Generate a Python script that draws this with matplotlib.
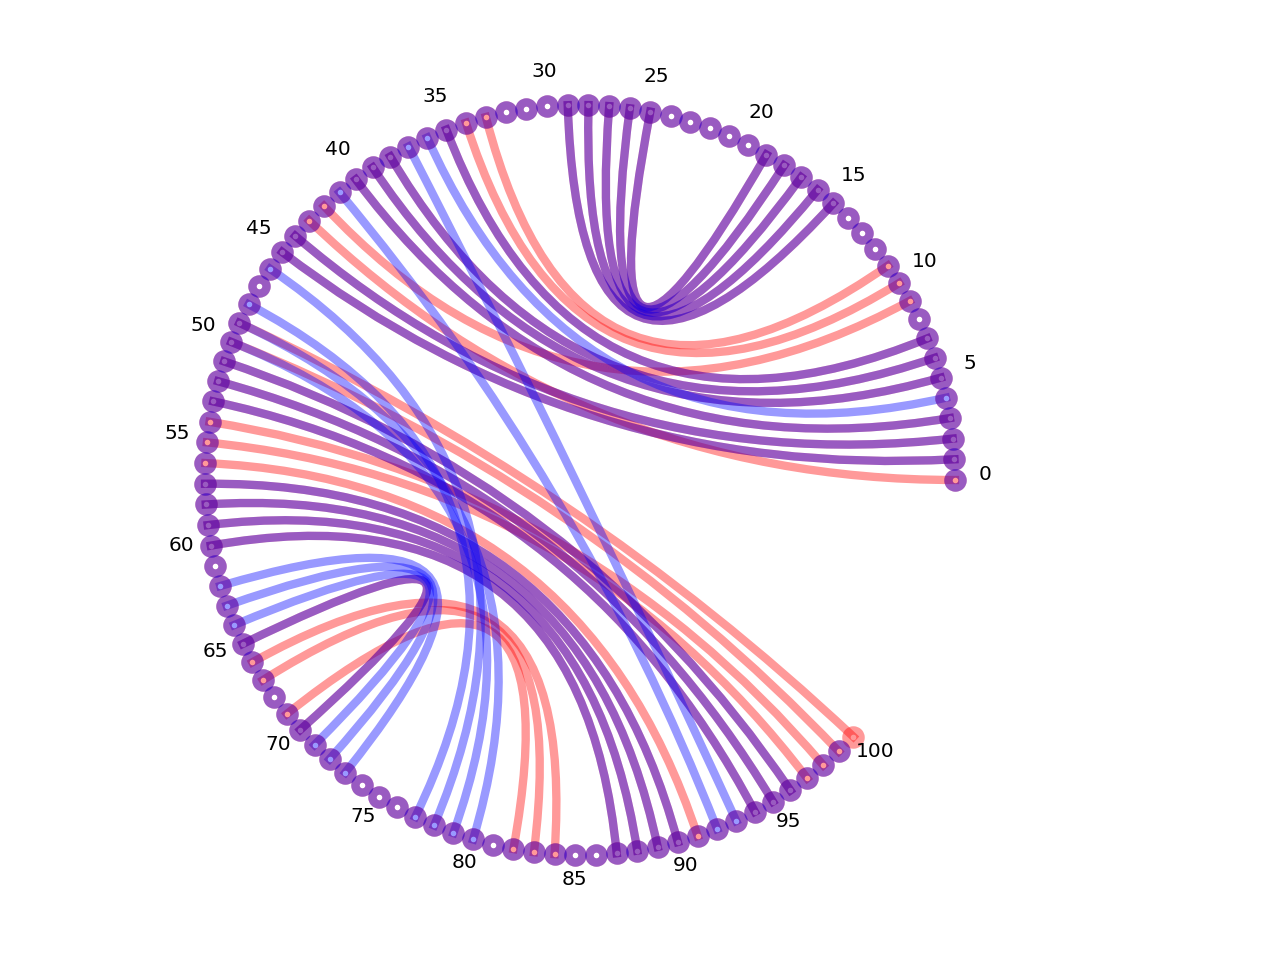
import numpy as np
import matplotlib
matplotlib.use('Agg')
import matplotlib.pyplot as plt
from matplotlib.path import Path
from matplotlib.patches import PathPatch

# two matchings on the same node set, drawn on top of each other
n_red = 101
n_blue = 100

red_edges = [
    (15, 29), (16, 28), (17, 27), (18, 26), (19, 25),
    (65, 70), (66, 84), (67, 83), (69, 82),
    (11, 33), (10, 34), (9, 42), (0, 43),
    (7, 35), (6, 38), (5, 39), (3, 40), (2, 44), (1, 45),
    (60, 87), (59, 88), (58, 89), (57, 90), (56, 91),
    (53, 94), (52, 95), (51, 96), (55, 97), (54, 98), (50, 99), (49, 100),
]
blue_edges = [
    (15, 29), (16, 28), (17, 27), (18, 26), (19, 25),
    (65, 70), (62, 73), (63, 72), (64, 71),
    (7, 35), (6, 38), (5, 39), (4, 36), (3, 40), (2, 44), (1, 45),
    (41, 92), (37, 93),
    (60, 87), (59, 88), (58, 89), (57, 90),
    (53, 94), (52, 95), (51, 96),
    (48, 77), (46, 78), (50, 79), (49, 80),
]
tick_labels = list(range(0, 101, 5))


def node_angle(i):
    return 2 * np.pi * 0.88 * i / 100


def node_xy(i):
    a = node_angle(i)
    return np.cos(a), np.sin(a)


def draw_edges(ax, edges, color):
    for a, b in edges:
        path = Path([node_xy(a), (0, 0), node_xy(b)],
                    [Path.MOVETO, Path.CURVE3, Path.CURVE3])
        ax.add_patch(PathPatch(path, facecolor='none', edgecolor=color,
                               lw=6, alpha=0.4, capstyle='projecting'))


def draw_nodes(ax, n, color):
    xs = [node_xy(i)[0] for i in range(n)]
    ys = [node_xy(i)[1] for i in range(n)]
    ax.plot(xs, ys, 'o', ls='none', ms=10.2, mew=6.0, mfc='none',
            mec=color, alpha=0.4)


fig = plt.figure(figsize=(12.8, 9.6), dpi=100)
ax = fig.add_axes([0, 0, 1, 1])
ax.set_xlim(-580 / 375, 700 / 375)
ax.set_ylim(-1.28, 1.28)
ax.axis('off')

draw_edges(ax, red_edges, 'red')
draw_nodes(ax, n_red, 'red')
draw_edges(ax, blue_edges, 'blue')
draw_nodes(ax, n_blue, 'blue')

for k in tick_labels:
    a = node_angle(k)
    ax.text(1.08 * np.cos(a), 1.08 * np.sin(a), str(k),
            ha='center', va='baseline', fontsize=14.5)

fig.savefig('out.png', dpi=100)
